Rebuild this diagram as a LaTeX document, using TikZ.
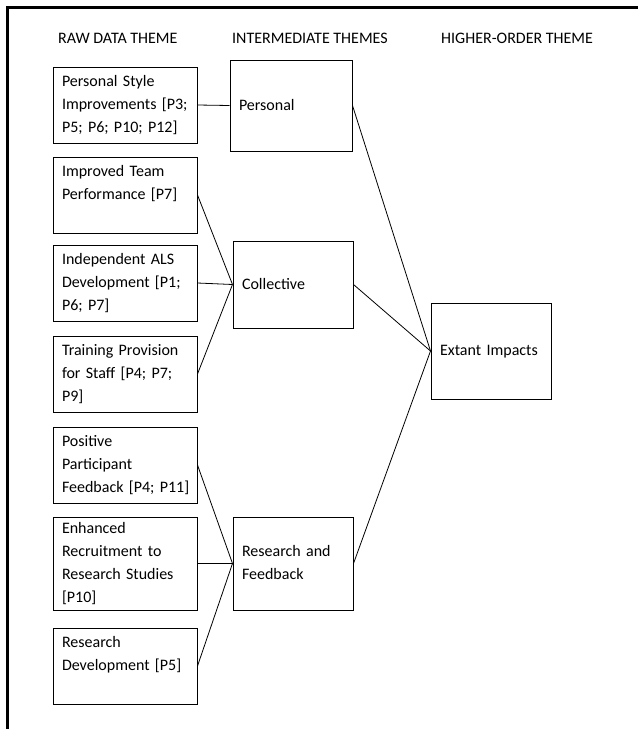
\documentclass[tikz,border=0pt]{standalone}
\usepackage{fontspec}
\setmainfont{Carlito}
\usepackage{tikz}

\tikzset{
  theme/.style={draw, line width=1pt, inner xsep=9pt, inner ysep=0pt, align=left,
    font=\fontsize{16}{22.7}\selectfont,
    execute at begin node=\strut, execute at end node=\strut},
  rawbox/.style={theme, minimum width=144pt, minimum height=76pt, text width=126pt},
  heading/.style={anchor=base west, inner sep=0pt, font=\fontsize{16}{22.7}\selectfont},
  link/.style={draw, line width=0.8pt}
}

\begin{document}
\begin{tikzpicture}[x=1pt, y=-1pt]
\useasboundingbox (0,0) rectangle (638,729);
\draw[line width=3pt] (7.5,729) -- (7.5,7.5) -- (638,7.5);

\node[heading] (rawHead) at (58,43) {RAW DATA THEME};
\node[heading] (midHead) at (232,43) {INTERMEDIATE THEMES};
\node[heading] (highHead) at (441,43) {HIGHER-ORDER THEME};

% raw data themes
\node[rawbox] (personalStyle) at (125,105) {Personal Style\\Improvements [P3;\\P5; P6; P10; P12]};
\node[rawbox] (teamPerformance) at (125,195) {Improved Team\\Performance [P7]\\};
\node[rawbox] (alsDevelopment) at (125,283) {Independent ALS\\Development [P1;\\P6; P7]};
\node[rawbox] (trainingProvision) at (125,374) {Training Provision\\for Staff [P4; P7;\\P9]};
\node[rawbox] (participantFeedback) at (125,465) {Positive\\Participant\\Feedback~[P4;~P11]};
\node[rawbox, minimum height=93pt] (enhancedRecruitment) at (125,563.5) {Enhanced\\Recruitment to\\Research Studies\\{}[P10]};
\node[rawbox] (researchDevelopment) at (125,666) {Research\\Development [P5]\\};

% intermediate themes
\node[theme, minimum width=122pt, minimum height=91pt, text width=104pt] (personal) at (291,105.5) {Personal};
\node[theme, minimum width=120pt, minimum height=87pt, text width=102pt] (collective) at (293,284.5) {Collective};
\node[theme, minimum width=120pt, minimum height=93pt, text width=102pt] (researchFeedback) at (293,563.5) {Research and\\Feedback};

% higher-order theme
\node[theme, minimum width=120pt, minimum height=96pt, text width=102pt] (extantImpacts) at (491,351) {Extant Impacts};

\draw[link] (personalStyle.east) -- (personal.west);
\draw[link] (teamPerformance.east) -- (collective.west);
\draw[link] (alsDevelopment.east) -- (collective.west);
\draw[link] (trainingProvision.east) -- (collective.west);
\draw[link] (participantFeedback.east) -- (researchFeedback.west);
\draw[link] (enhancedRecruitment.east) -- (researchFeedback.west);
\draw[link] (researchDevelopment.east) -- (researchFeedback.west);
\draw[link] (personal.east) -- (extantImpacts.west);
\draw[link] (collective.east) -- (extantImpacts.west);
\draw[link] (researchFeedback.east) -- (extantImpacts.west);
\end{tikzpicture}
\end{document}
